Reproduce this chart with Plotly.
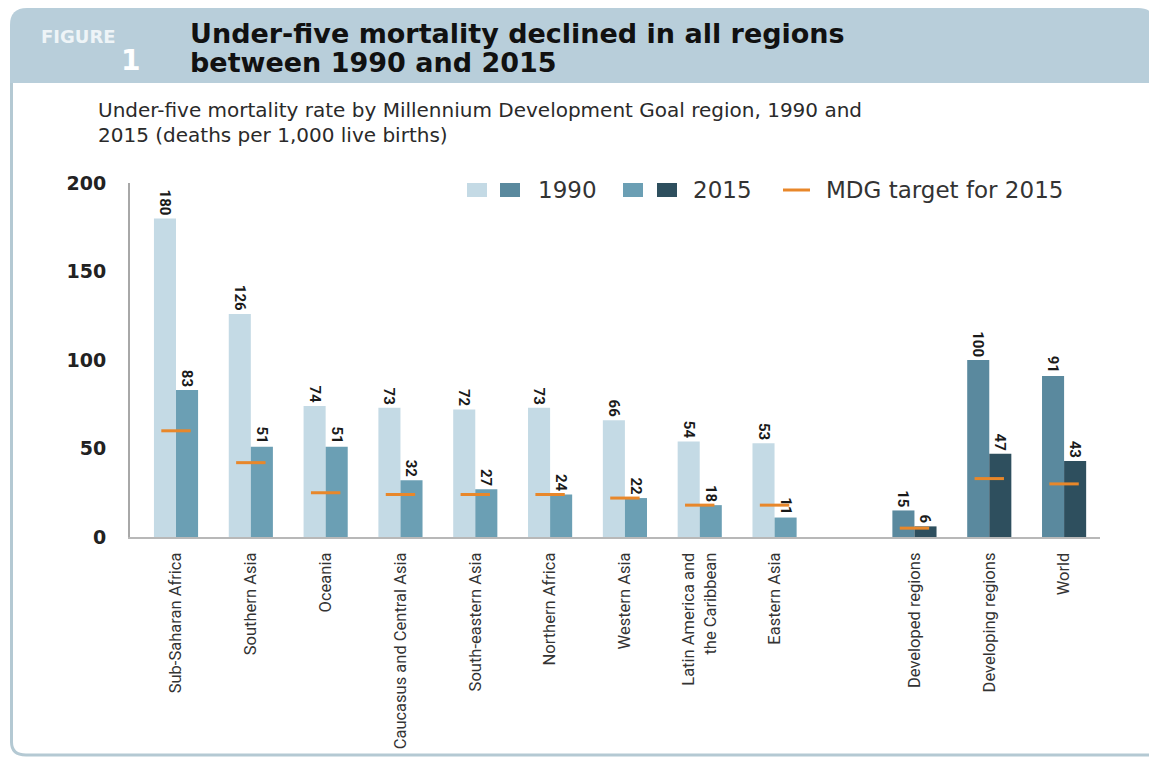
import plotly.graph_objects as go

# ---------------- data ----------------
regions = [
    "Sub-Saharan Africa", "Southern Asia", "Oceania", "Caucasus and Central Asia",
    "South-eastern Asia", "Northern Africa", "Western Asia",
    "Latin America and<br>the Caribbean", "Eastern Asia",
    "Developed regions", "Developing regions", "World",
]
rate_1990 = [180, 126, 74, 73, 72, 73, 66, 54, 53, 15, 100, 91]
rate_2015 = [83, 51, 51, 32, 27, 24, 22, 18, 11, 6, 47, 43]
mdg_target_2015 = [60, 42, 25, 24, 24, 24, 22, 18, 18, 5, 33, 30]
is_aggregate = [False] * 9 + [True] * 3
y_ticks = [0, 50, 100, 150, 200]

# ---------------- styling ----------------
W, H = 1157, 758
OFF = 8  # page body margin offset
L, R, T, B = 130, 1100, 183, 537   # plot area in screen pixels
GROUP_GAP = 0.87

C90_REG, C15_REG = "#c4dae5", "#6b9fb4"
C90_AGG, C15_AGG = "#5a899e", "#2e4f5e"
ORANGE = "#e8872a"
HEADER = "#b8ceda"

positions = []
gap = 0.0
for i, agg in enumerate(is_aggregate):
    if agg and (i == 0 or not is_aggregate[i - 1]):
        gap = GROUP_GAP
    positions.append(i + gap)

col90 = [C90_AGG if a else C90_REG for a in is_aggregate]
col15 = [C15_AGG if a else C15_REG for a in is_aggregate]

NARROW = "Liberation Sans Narrow, Arial Narrow, Roboto, sans-serif"
WIDE = "DejaVu Sans, Verdana, sans-serif"


def px(x):
    return (x - L) / (R - L)


def py(y):
    return (B - y) / (B - T)


fig = go.Figure()
for vals, cols, nm in ((rate_1990, col90, "1990"), (rate_2015, col15, "2015")):
    fig.add_trace(go.Bar(
        x=positions, y=vals, name=nm, marker=dict(color=cols, line=dict(width=0)),
        text=[str(v) for v in vals], textposition="outside", textangle=90,
        textfont=dict(family=NARROW, size=15, color="#1a1a1a", weight="bold"),
        cliponaxis=False, constraintext="none", hoverinfo="skip",
    ))
fig.add_trace(go.Scatter(
    x=positions, y=mdg_target_2015, mode="markers", name="MDG target for 2015",
    marker=dict(symbol="line-ew", size=21, line=dict(color=ORANGE, width=3)),
    cliponaxis=False, hoverinfo="skip",
))

shapes = []
hx0, hx1, hy0, hy1, r = 10, 1155, 8, 83, 17
path = (f"M {px(hx0)},{py(hy1)} L {px(hx0)},{py(hy0 + r)} "
        f"Q {px(hx0)},{py(hy0)} {px(hx0 + r)},{py(hy0)} "
        f"L {px(hx1 - r)},{py(hy0)} Q {px(hx1)},{py(hy0)} {px(hx1)},{py(hy0 + r)} "
        f"L {px(hx1)},{py(hy1)} Z")
shapes.append(dict(type="path", xref="paper", yref="paper", path=path,
                   fillcolor=HEADER, line=dict(width=0), layer="below"))
bpath = (f"M {px(11.5)},{py(83)} L {px(11.5)},{py(742)} "
         f"Q {px(11.5)},{py(755)} {px(26)},{py(755)} L {px(1150)},{py(755)}")
shapes.append(dict(type="path", xref="paper", yref="paper", path=bpath,
                   line=dict(color="#b4c9d3", width=3), layer="below"))


def square(x0, color):
    shapes.append(dict(type="rect", xref="paper", yref="paper",
                       x0=px(x0), x1=px(x0 + 20), y0=py(197), y1=py(183),
                       fillcolor=color, line=dict(width=0)))


square(467, C90_REG)
square(500, C90_AGG)
square(623, C15_REG)
square(657, C15_AGG)
shapes.append(dict(type="line", xref="paper", yref="paper",
                   x0=px(783), x1=px(810), y0=py(190), y1=py(190),
                   line=dict(color=ORANGE, width=3)))

TITLE_FONT = dict(family=WIDE, size=27, color="#111111", weight="bold")
SUB_FONT = dict(family=WIDE, size=20, color="#2a2a2a")
LEG_FONT = dict(family=WIDE, size=23, color="#333333")
annotations = [
    dict(text="FIGURE", x=px(39), y=py(36), xanchor="left", yanchor="middle",
         font=dict(family=WIDE, size=18, color="#eef4f7", weight="bold")),
    dict(text="1", x=px(142), y=py(60), xanchor="right", yanchor="middle",
         font=dict(family=WIDE, size=28, color="white", weight="bold")),
    dict(text="Under-five mortality declined in all regions",
         x=px(188), y=py(34), xanchor="left", yanchor="middle", font=TITLE_FONT),
    dict(text="between 1990 and 2015",
         x=px(188), y=py(62), xanchor="left", yanchor="middle", font=TITLE_FONT),
    dict(text="Under-five mortality rate by Millennium Development Goal region, 1990 and",
         x=px(96), y=py(110), xanchor="left", yanchor="middle", font=SUB_FONT),
    dict(text="2015 (deaths per 1,000 live births)",
         x=px(96), y=py(135), xanchor="left", yanchor="middle", font=SUB_FONT),
    dict(text="1990", x=px(536), y=py(190), xanchor="left", yanchor="middle", font=LEG_FONT),
    dict(text="2015", x=px(691), y=py(190), xanchor="left", yanchor="middle", font=LEG_FONT),
    dict(text="MDG target for 2015", x=px(824), y=py(190), xanchor="left", yanchor="middle",
         font=LEG_FONT),
]
for a in annotations:
    a.update(xref="paper", yref="paper", showarrow=False)

fig.update_layout(
    width=W, height=H,
    margin=dict(l=L - OFF, r=W - (R - OFF), t=T - OFF, b=H - (B - OFF), pad=0,
                autoexpand=False),
    paper_bgcolor="white", plot_bgcolor="white",
    barmode="group", bargap=0.41, bargroupgap=0,
    showlegend=False,
    shapes=shapes, annotations=annotations,
    xaxis=dict(
        tickmode="array", tickvals=positions, ticktext=regions, tickangle=-90,
        range=[positions[0] - 0.615, positions[-1] + 0.48], automargin=False,
        showgrid=False, zeroline=False, showline=True, linecolor="#b8b8b8", linewidth=2,
        ticks="", ticklabelstandoff=7,
        tickfont=dict(family=NARROW, size=16.5, color="#333333"),
    ),
    yaxis=dict(
        range=[0, 200], tickmode="array", tickvals=y_ticks, automargin=False,
        showgrid=False, zeroline=False, showline=True, linecolor="#a8a8a8", linewidth=2,
        ticks="", ticklabelstandoff=18,
        tickfont=dict(family=WIDE, size=19, color="#222222", weight="bold"),
    ),
)

fig.write_html("out.html")
